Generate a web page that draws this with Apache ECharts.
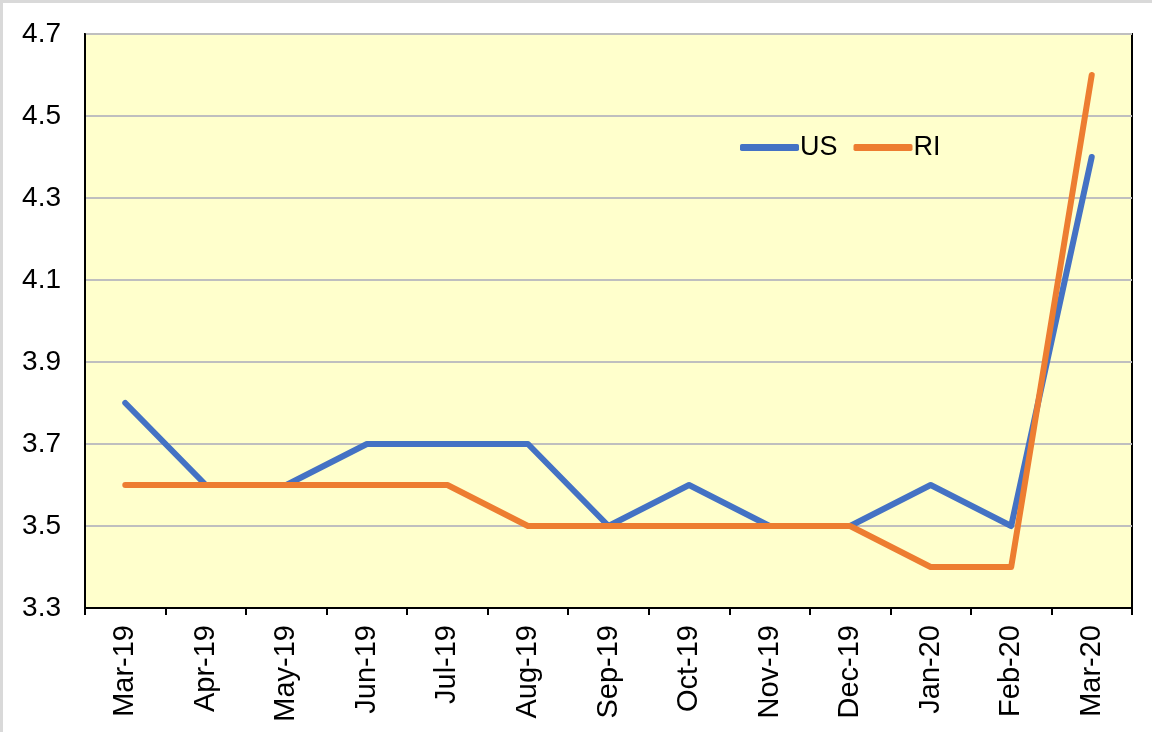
<!DOCTYPE html>
<html>
<head>
<meta charset="utf-8">
<script src="https://cdn.jsdelivr.net/npm/echarts@6/dist/echarts.min.js"></script>
<style>
html, body { margin: 0; padding: 0; background: #fff; }
#chart { width: 1152px; height: 732px; box-sizing: border-box; border: 3px solid #d9d9d9; border-right: none; border-bottom: none; }
</style>
</head>
<body>
<div id="chart"></div>
<script>
// months on the x axis
const months = ['Mar-19', 'Apr-19', 'May-19', 'Jun-19', 'Jul-19', 'Aug-19', 'Sep-19',
  'Oct-19', 'Nov-19', 'Dec-19', 'Jan-20', 'Feb-20', 'Mar-20']
// unemployment rate, US vs Rhode Island
const usValues = [3.8, 3.6, 3.6, 3.7, 3.7, 3.7, 3.5, 3.6, 3.5, 3.5, 3.6, 3.5, 4.4]
const riValues = [3.6, 3.6, 3.6, 3.6, 3.6, 3.5, 3.5, 3.5, 3.5, 3.5, 3.4, 3.4, 4.6]

let chart = echarts.init(document.getElementById('chart'))
let lineStyle = (color) => ({ color: color, width: 6, cap: 'round', join: 'round' })
let option = {
  animation: false,
  textStyle: { fontFamily: 'Liberation Sans, Arial, sans-serif' },
  grid: {
    left: 82,
    right: 20,
    top: 31,
    bottom: 124,
    show: true,
    backgroundColor: '#FFFFCC',
    borderColor: '#000',
    borderWidth: 2
  },
  legend: {
    left: 732,
    top: 126,
    icon: 'roundRect',
    itemWidth: 59,
    itemHeight: 7,
    itemGap: 16,
    textStyle: { fontSize: 27, color: '#000', padding: [0, 0, 0, -4] },
    data: ['US', 'RI']
  },
  xAxis: {
    type: 'category',
    data: months,
    boundaryGap: true,
    axisLine: { lineStyle: { color: '#000', width: 2 } },
    axisTick: { show: true, alignWithLabel: false, length: 7, lineStyle: { color: '#000', width: 2 } },
    axisLabel: { rotate: 90, fontSize: 29, color: '#000', margin: 17 }
  },
  yAxis: {
    type: 'value',
    min: 3.3,
    max: 4.7,
    interval: 0.2,
    axisLine: { show: true, lineStyle: { color: '#000', width: 2 } },
    axisTick: { show: false },
    axisLabel: { fontSize: 28, color: '#000', margin: 24, formatter: (v) => v.toFixed(1) },
    splitLine: { lineStyle: { color: '#BFBFBF', width: 2 } }
  },
  series: [
    {
      name: 'US',
      type: 'line',
      data: usValues,
      symbol: 'none',
      color: '#4472C4',
      lineStyle: lineStyle('#4472C4'),
      z: 3
    },
    {
      name: 'RI',
      type: 'line',
      data: riValues,
      symbol: 'none',
      color: '#ED7D31',
      lineStyle: lineStyle('#ED7D31'),
      z: 4
    }
  ]
}
chart.setOption(option)
</script>
</body>
</html>
